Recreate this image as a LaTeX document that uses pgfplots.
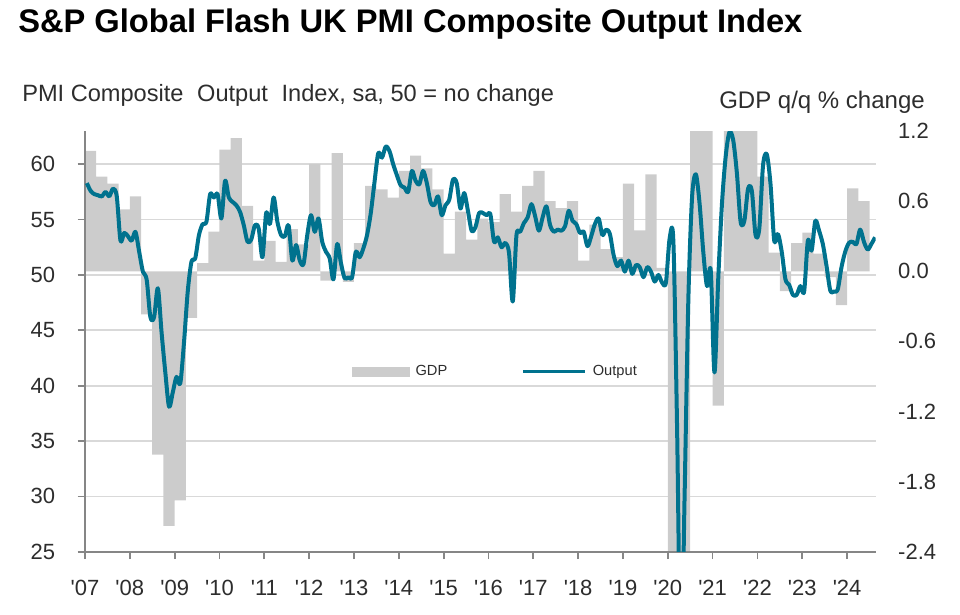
\documentclass[border=0pt]{standalone}
\usepackage{fontspec}
\setmainfont{Liberation Sans}
\usepackage{pgfplots}
\usepackage{pgfplotstable}
\pgfplotsset{compat=1.18}
\definecolor{lineteal}{RGB}{0,114,142}
\definecolor{gdpgray}{RGB}{204,204,204}
\definecolor{gridgray}{RGB}{217,217,217}
\definecolor{axisgray}{RGB}{134,134,134}
\definecolor{txtgray}{RGB}{45,45,45}

\pgfplotstableread{
m v
0.5 58.3
1.5 57.6
2.5 57.3
3.5 57.2
4.5 57.1
5.5 57.5
6.5 57.1
7.5 57.8
8.5 57.1
9.5 53.1
10.5 53.8
11.5 53.5
12.5 53.1
13.5 53.9
14.5 52.1
15.5 50.3
16.5 49.6
17.5 46.2
18.5 46.2
19.5 48.8
20.5 44.8
21.5 41.2
22.5 38.1
23.5 39.4
24.5 40.8
25.5 40.2
26.5 43.9
27.5 48.5
28.5 51.2
29.5 51.5
30.5 53.6
31.5 54.6
32.5 54.8
33.5 57.3
34.5 57.0
35.5 57.3
36.5 55.1
37.5 58.5
38.5 57.0
39.5 56.6
40.5 56.3
41.5 55.7
42.5 54.5
43.5 53.0
44.5 53.2
45.5 54.5
46.5 54.2
47.5 51.6
48.5 55.6
49.5 54.6
50.5 57.0
51.5 54.8
52.5 53.6
53.5 53.5
54.5 54.5
55.5 51.3
56.5 52.7
57.5 51.3
58.5 51.0
59.5 53.6
60.5 55.4
61.5 53.9
62.5 55.1
63.5 53.0
64.5 52.1
65.5 51.5
66.5 49.6
67.5 52.8
68.5 51.1
69.5 49.7
70.5 49.8
71.5 49.8
72.5 52.1
73.5 51.6
74.5 52.4
75.5 53.6
76.5 55.6
77.5 58.4
78.5 61.0
79.5 60.6
80.5 61.6
81.5 61.2
82.5 60.0
83.5 59.0
84.5 58.1
85.5 57.9
86.5 57.5
87.5 59.4
88.5 58.5
89.5 58.2
90.5 59.4
91.5 58.3
92.5 56.6
93.5 56.3
94.5 57.1
95.5 55.4
96.5 56.3
97.5 56.8
98.5 58.6
99.5 58.3
100.5 56.0
101.5 57.4
102.5 55.8
103.5 54.0
104.5 54.3
105.5 55.6
106.5 55.6
107.5 55.4
108.5 55.5
109.5 53.0
110.5 53.4
111.5 52.5
112.5 52.9
113.5 52.0
114.5 47.6
115.5 53.6
116.5 53.9
117.5 54.7
118.5 55.2
119.5 56.4
120.5 55.3
121.5 54.0
122.5 55.2
123.5 56.2
124.5 54.5
125.5 53.9
126.5 54.1
127.5 54.0
128.5 54.4
129.5 55.8
130.5 54.9
131.5 54.6
132.5 53.8
133.5 53.9
134.5 52.6
135.5 53.5
136.5 54.6
137.5 55.1
138.5 53.6
139.5 54.1
140.5 53.7
141.5 51.8
142.5 50.8
143.5 51.3
144.5 50.3
145.5 51.3
146.5 50.1
147.5 50.9
148.5 50.7
149.5 49.8
150.5 50.7
151.5 50.3
152.5 49.4
153.5 50.0
154.5 49.3
155.5 49.3
156.5 53.3
157.5 53.0
158.5 36.0
159.5 13.8
160.5 30.0
161.5 47.7
162.5 57.0
163.5 59.1
164.5 56.5
165.5 52.1
166.5 49.0
167.5 50.4
168.5 41.2
169.5 49.6
170.5 56.4
171.5 60.7
172.5 62.9
173.5 62.2
174.5 59.2
175.5 54.8
176.5 54.9
177.5 57.8
178.5 57.6
179.5 53.6
180.5 54.2
181.5 59.9
182.5 60.9
183.5 58.2
184.5 53.1
185.5 53.7
186.5 52.1
187.5 49.6
188.5 49.1
189.5 48.2
190.5 48.2
191.5 49.0
192.5 48.5
193.5 53.1
194.5 52.2
195.5 54.9
196.5 54.0
197.5 52.8
198.5 50.8
199.5 48.6
200.5 48.5
201.5 48.7
202.5 50.7
203.5 52.1
204.5 52.9
205.5 53.0
206.5 52.8
207.5 54.1
208.5 53.0
209.5 52.3
210.5 52.8
211.5 53.4
}\pmi

\pgfplotstableread{
m g
1.5 1.03
4.5 0.81
7.5 0.75
10.5 0.53
13.5 0.64
16.5 -0.37
19.5 -1.57
22.5 -2.18
25.5 -1.96
28.5 -0.40
31.5 0.07
34.5 0.34
37.5 1.04
40.5 1.14
43.5 0.56
46.5 0.09
49.5 0.26
52.5 0.08
55.5 0.36
58.5 0.23
61.5 0.92
64.5 -0.08
67.5 1.01
70.5 -0.09
73.5 0.24
76.5 0.73
79.5 0.70
82.5 0.63
85.5 0.86
88.5 0.99
91.5 0.88
94.5 0.70
97.5 0.15
100.5 0.51
103.5 0.27
106.5 0.45
109.5 0.42
112.5 0.66
115.5 0.51
118.5 0.73
121.5 0.86
124.5 0.60
127.5 0.54
130.5 0.60
133.5 0.09
136.5 0.40
139.5 0.19
142.5 0.12
145.5 0.75
148.5 0.35
151.5 0.83
154.5 0.03
157.5 -2.7
160.5 -20.3
163.5 16.9
166.5 1.5
169.5 -1.15
172.5 6.5
175.5 1.7
178.5 1.5
181.5 0.81
184.5 0.16
187.5 -0.17
190.5 0.24
193.5 0.33
196.5 0.15
199.5 -0.05
202.5 -0.29
205.5 0.71
208.5 0.60
}\gdp

\begin{document}
\begin{tikzpicture}
\useasboundingbox (0,0) rectangle (720pt,460.5pt);
\pgfplotsset{
  base/.style={at={(63.75pt,46.7pt)}, anchor=south west, scale only axis,
    width=593pt, height=315.5pt, xmin=0, xmax=211.65},
  ticktext/.style={font=\fontsize{16.5}{16.5}\selectfont, text=txtgray},
}
% grid
\begin{axis}[base, ymin=25, ymax=63, xtick=\empty, ytick={30,35,40,45,50,55,60},
  yticklabels={}, ymajorgrids, grid style={gridgray, line width=1.3pt},
  axis line style={draw=none}, tick style={draw=none}]
\end{axis}
% GDP bars, right scale
\begin{axis}[base, ymin=-2.4, ymax=1.2, hide x axis,
  axis y line*=right, y axis line style={draw=none}, tick style={draw=none},
  ytick={-2.4,-1.8,-1.2,-0.6,0,0.6,1.2},
  yticklabels={-2.4,-1.8,-1.2,-0.6,0.0,0.6,1.2},
  yticklabel style={ticktext, anchor=west, inner sep=0pt, xshift=16.7pt}]
\addplot[ybar, bar width=3, bar shift=0pt, fill=gdpgray, draw=none] table[x=m, y=g] {\gdp};
\end{axis}
% PMI line, left scale
\begin{axis}[base, ymin=25, ymax=63,
  axis x line*=bottom, axis y line*=left,
  axis line style={axisgray, line width=1.5pt},
  xtick={0,12,...,204},
  xticklabels={\textquotesingle07,\textquotesingle08,\textquotesingle09,\textquotesingle10,\textquotesingle11,\textquotesingle12,\textquotesingle13,\textquotesingle14,\textquotesingle15,\textquotesingle16,\textquotesingle17,\textquotesingle18,\textquotesingle19,\textquotesingle20,\textquotesingle21,\textquotesingle22,\textquotesingle23,\textquotesingle24},
  ytick={25,30,35,40,45,50,55,60},
  yticklabels={25,30,35,40,45,50,55,60},
  tick align=outside, major tick length=5.6pt,
  tick style={axisgray, line width=1.3pt},
  yticklabel style={ticktext, anchor=east, inner sep=0pt, xshift=-16.7pt},
  xticklabel style={ticktext, anchor=base, inner sep=0pt, yshift=-27pt},
  legend columns=2,
  legend style={at={(0.3377,0.4279)}, anchor=west, draw=none, fill=none,
    inner sep=0pt, outer sep=0pt, font=\fontsize{11}{13}\selectfont, text=txtgray,
    nodes={inner sep=0pt},
    /tikz/every odd column/.append style={column sep=4.5pt},
    /tikz/every even column/.append style={column sep=55.5pt}},
]
\addlegendimage{legend image code/.code={\fill[gdpgray] (0pt,-3.4pt) rectangle (42.75pt,3.4pt);}}
\addlegendentry{GDP}
\addplot[lineteal, line width=3pt, smooth, tension=0.5, line join=round,
  legend image code/.code={\draw[lineteal, line width=2.6pt] (0pt,0pt) -- (46.5pt,0pt);}]
  table[x=m, y=v] {\pmi};
\addlegendentry{Output}
\end{axis}
% titles
\node[anchor=base west, inner sep=0pt, font=\fontsize{24.5}{24.5}\selectfont\bfseries] at (13.5pt,435.75pt) {S\&P Global Flash UK PMI Composite Output Index};
\node[anchor=base west, inner sep=0pt, font=\fontsize{17.7}{17.7}\selectfont, text=txtgray] at (16.5pt,384.4pt) {PMI Composite\hspace{0.3em} Output\hspace{0.3em} Index, sa, 50 = no change};
\node[anchor=base east, inner sep=0pt, font=\fontsize{18}{18}\selectfont, text=txtgray] at (693.75pt,379.3pt) {GDP q/q \% change};
\end{tikzpicture}
\end{document}
